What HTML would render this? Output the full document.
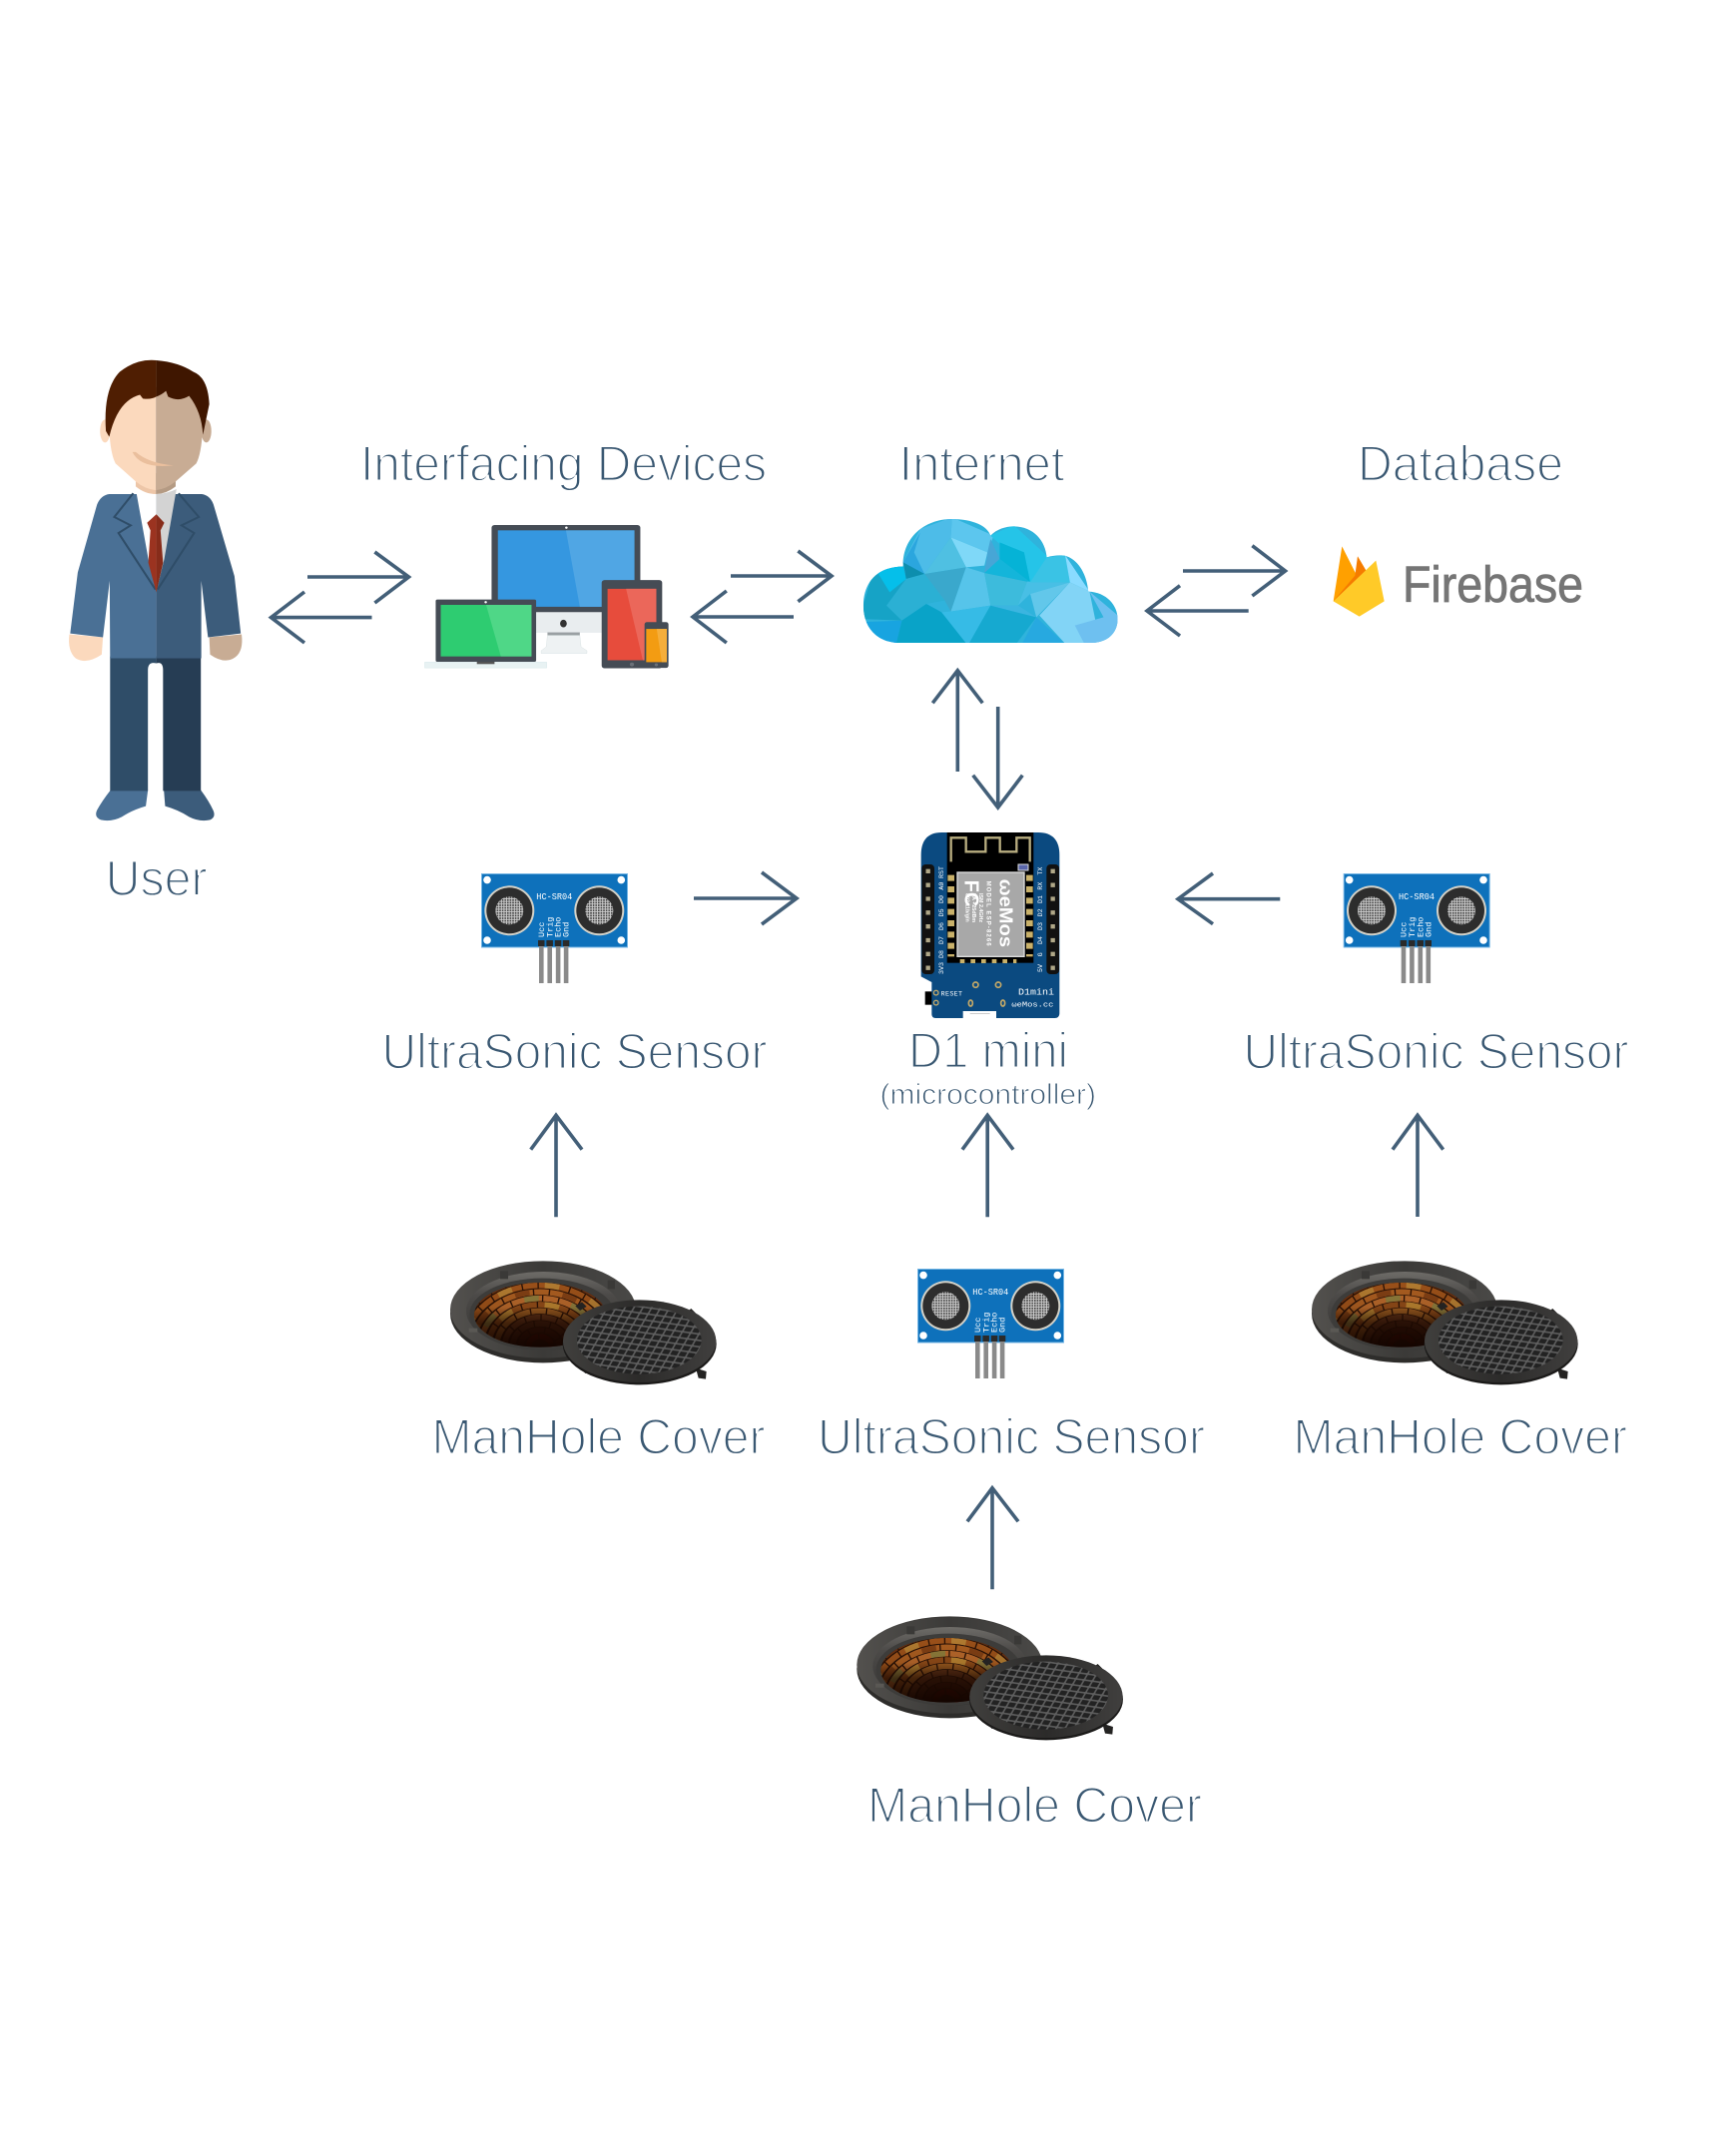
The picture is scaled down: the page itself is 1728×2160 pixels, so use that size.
<!DOCTYPE html>
<html><head><meta charset="utf-8"><style>
html,body{margin:0;padding:0;background:#fff}
svg{display:block}
.t{font-family:"Liberation Sans",sans-serif;font-size:50px;fill:#3a5872;stroke:#fff;stroke-width:1.9px}
.a{fill:none;stroke:#435f78;stroke-width:3.6}
.w{font-family:"Liberation Mono",monospace;fill:#fff}
</style></head><body>
<svg width="1728" height="2160" viewBox="0 0 1728 2160" xmlns="http://www.w3.org/2000/svg">
<defs>
<pattern id="mesh" width="2.6" height="2.6" patternUnits="userSpaceOnUse"><rect width="2.6" height="2.6" fill="#cfcfcf"/><rect width="1.6" height="1.6" fill="#3a3a3a"/></pattern>
<pattern id="grate" width="25" height="19" patternUnits="userSpaceOnUse" patternTransform="rotate(8) skewX(-22)"><rect width="25" height="19" fill="#5f5f5f"/><rect x="2.5" y="2.5" width="20" height="14" rx="2" fill="#222"/></pattern>
<linearGradient id="hd" x1="0" y1="0" x2="0" y2="1"><stop offset="0" stop-color="#000" stop-opacity="0"/><stop offset=".38" stop-color="#100500" stop-opacity=".08"/><stop offset=".62" stop-color="#160600" stop-opacity=".65"/><stop offset="1" stop-color="#120400" stop-opacity=".95"/></linearGradient>
<linearGradient id="rim" x1="0" y1="0" x2="1" y2="0"><stop offset="0" stop-color="#53514e"/><stop offset=".5" stop-color="#3b3a38"/><stop offset="1" stop-color="#4a4947"/></linearGradient>
<linearGradient id="shelf" x1="0" y1="0" x2="0" y2="1"><stop offset="0" stop-color="#6e6c68"/><stop offset=".3" stop-color="#4c4a48"/><stop offset="1" stop-color="#333230"/></linearGradient>
<linearGradient id="cv" x1="0" y1="0" x2="1" y2="0"><stop offset="0" stop-color="#403f3d"/><stop offset=".5" stop-color="#2c2b2a"/><stop offset="1" stop-color="#403f3e"/></linearGradient>
<clipPath id="cl"><path d="M355,672C320,665 302,620 302,560C302,490 325,443 367,443C365,360 400,300 447,300C480,300 505,320 510,350C520,330 535,322 548,322C580,322 600,365 602,415C615,408 628,408 635,412C655,425 668,470 670,518C700,520 718,560 718,600C718,645 700,672 675,672Z"/></clipPath>
<clipPath id="hole"><ellipse cx="612" cy="652" rx="198" ry="97"/></clipPath>

<g id="sensor">
<rect x=".5" y=".5" width="146" height="73.5" fill="#0e71bb" stroke="#74b5e4"/>
<circle cx="6" cy="6.6" r="3.8" fill="#fff"/><circle cx="140.3" cy="6.6" r="3.8" fill="#fff"/><circle cx="6" cy="67" r="3.8" fill="#fff"/><circle cx="140.3" cy="67" r="3.8" fill="#fff"/>
<circle cx="28.3" cy="37.3" r="25" fill="#d4d2c8"/><circle cx="28.3" cy="37.3" r="23" fill="#2d2d2d"/><circle cx="28.3" cy="37.3" r="14" fill="url(#mesh)"/>
<circle cx="118.3" cy="37.3" r="25" fill="#d4d2c8"/><circle cx="118.3" cy="37.3" r="23" fill="#2d2d2d"/><circle cx="118.3" cy="37.3" r="14" fill="url(#mesh)"/>
<text x="73.3" y="26" text-anchor="middle" class="w" font-size="9" textLength="36" lengthAdjust="spacingAndGlyphs">HC-SR04</text>
<text transform="translate(63,64) rotate(-90)" class="w" font-size="8.5">Ucc</text>
<text transform="translate(71.3,64) rotate(-90)" class="w" font-size="8.5">Trig</text>
<text transform="translate(79.6,64) rotate(-90)" class="w" font-size="8.5">Echo</text>
<text transform="translate(87.6,64) rotate(-90)" class="w" font-size="8.5">Gnd</text>
<g fill="#2a2a2a"><rect x="57" y="67" width="6.5" height="6"/><rect x="65.4" y="67" width="6.5" height="6"/><rect x="73.8" y="67" width="6.5" height="6"/><rect x="81.8" y="67" width="6.5" height="6"/></g>
<g fill="#8a8a8a"><rect x="58" y="73" width="4.6" height="37"/><rect x="66.4" y="73" width="4.6" height="37"/><rect x="74.8" y="73" width="4.6" height="37"/><rect x="82.8" y="73" width="4.6" height="37"/></g>
</g>

<g id="mh"><g transform="translate(1200,1100) scale(.33333)">
<ellipse cx="621" cy="648" rx="279" ry="148" fill="#2e2d2b"/>
<ellipse cx="621" cy="636" rx="279" ry="146" fill="url(#rim)"/>
<ellipse cx="622" cy="640" rx="232" ry="118" fill="url(#shelf)"/>
<ellipse cx="618" cy="650" rx="218" ry="108" fill="#3d3c3a"/>
<ellipse cx="612" cy="652" rx="198" ry="97" fill="#2a1206"/>
<g clip-path="url(#hole)" fill="none" stroke-width="17">
<ellipse cx="612" cy="745" rx="226" ry="182" stroke="#9a5019" stroke-dasharray="44 4"/>
<ellipse cx="612" cy="745" rx="226" ry="182" stroke="#b07a30" stroke-dasharray="44 100" stroke-dashoffset="30"/>
<ellipse cx="612" cy="745" rx="202" ry="162" stroke="#a85c20" stroke-dasharray="44 4" stroke-dashoffset="22"/>
<ellipse cx="612" cy="745" rx="202" ry="162" stroke="#7f3f14" stroke-dasharray="44 100" stroke-dashoffset="80"/>
<ellipse cx="612" cy="745" rx="178" ry="143" stroke="#b4662a" stroke-dasharray="44 4"/>
<ellipse cx="612" cy="745" rx="178" ry="143" stroke="#8c7a3a" stroke-dasharray="44 100" stroke-dashoffset="10"/>
<ellipse cx="612" cy="745" rx="154" ry="124" stroke="#8d4a18" stroke-dasharray="44 4" stroke-dashoffset="22"/>
<ellipse cx="612" cy="745" rx="154" ry="124" stroke="#b5802f" stroke-dasharray="44 100" stroke-dashoffset="50"/>
<ellipse cx="612" cy="745" rx="130" ry="105" stroke="#9a5a1f" stroke-dasharray="44 4"/>
<ellipse cx="612" cy="745" rx="106" ry="86" stroke="#643418" stroke-dasharray="44 4" stroke-dashoffset="22"/>
<ellipse cx="612" cy="745" rx="82" ry="67" stroke="#4a2410" stroke-dasharray="44 4"/>
<ellipse cx="612" cy="745" rx="58" ry="48" stroke="#3c170a" stroke-dasharray="44 4" stroke-dashoffset="22"/>
<ellipse cx="612" cy="745" rx="34" ry="28" stroke="#4a0d04" stroke-dasharray="44 4"/>
<ellipse cx="612" cy="745" rx="250" ry="201" stroke="#6a3212" stroke-dasharray="44 4"/>
</g>
<ellipse cx="612" cy="652" rx="198" ry="97" fill="url(#hd)"/>
<rect x="492" y="520" width="24" height="24" fill="#3a3937"/><rect x="815" y="548" width="22" height="26" fill="#3a3937"/><rect x="398" y="692" width="26" height="12" fill="#5a5854"/>
<path d="M718,625l20,-12l14,14l-20,12ZM1050,645l16,-12l14,14l-16,12ZM732,808l18,-8l16,18l-18,10ZM1080,812L1112,822L1110,845L1088,842Z" fill="#242322"/>
<ellipse cx="911" cy="739" rx="231" ry="123" fill="#1b1a19"/>
<ellipse cx="911" cy="731" rx="230" ry="124" fill="url(#cv)"/>
<ellipse cx="910" cy="728" rx="187" ry="102" fill="url(#grate)"/>
</g></g>
</defs>

<rect width="1728" height="2160" fill="#fff"/>

<!-- User -->
<g transform="translate(40,340) scale(.42088,.38270)">
<path d="M168,1180H257L252,1222Q220,1232 195,1250Q170,1264 145,1258Q128,1250 136,1232Q148,1208 168,1180Z" fill="#4a7095"/>
<path d="M383,1180H295L298,1222Q330,1232 355,1250Q380,1264 405,1258Q420,1250 412,1232Q402,1208 383,1180Z" fill="#3c5c7b"/>
<path d="M167,830H277V848Q257,842 257,866V1182H167Z" fill="#2f4d68"/>
<path d="M383,830H277V848Q293,842 293,866V1182H383Z" fill="#263d54"/>
<path d="M70,772L150,780L147,825Q110,852 85,835Q65,815 70,772Z" fill="#fbd9bd"/>
<path d="M480,772L403,780L405,825Q440,852 465,832Q485,815 480,772Z" fill="#c8ac94"/>
<path d="M277,405H165Q145,408 136,432L90,610L72,770L150,780L166,632L167,835H277Z" fill="#4a7095"/>
<path d="M277,405H385Q405,408 413,432L463,620L478,770L400,780L384,632L384,835H277Z" fill="#3c5c7b"/>
<path d="M228,392Q250,405 277,405V660L258,575Z" fill="#fff"/><path d="M325,392Q300,405 277,405V660L296,575Z" fill="#d3d3d3"/>
<path d="M222,403L177,465L216,487L187,507L275,655" fill="none" stroke="#2f4d68" stroke-width="5"/>
<path d="M330,403L378,465L337,487L367,507L280,655" fill="none" stroke="#2f4d68" stroke-width="5"/>
<path d="M277,458L255,480L263,500L258,585L277,662Z" fill="#9b3320"/>
<path d="M277,458L296,480L287,500L293,585L277,662Z" fill="#872c1a"/>
<ellipse cx="155" cy="240" rx="12" ry="30" fill="#fbd9bd"/><ellipse cx="396" cy="240" rx="12" ry="30" fill="#c8ac94"/>
<path d="M228,350V385Q250,405 276,405V350Z" fill="#edc6a8"/><path d="M323,350V385Q300,405 276,405V350Z" fill="#b49a83"/>
<path d="M276,125H220Q170,150 165,240Q168,300 180,325L228,372Q250,392 276,395Z" fill="#fbd9bd"/>
<path d="M276,125H330Q385,150 387,240Q384,300 372,325L323,372Q300,392 276,395Z" fill="#c8ac94"/>
<path d="M220,295Q240,340 318,330Q260,325 228,295Z" fill="#eabf9d"/>
<path d="M277,55Q230,50 190,85Q150,130 157,240L165,255Q185,160 238,145L245,155Q265,158 277,150Z" fill="#4f1e02"/>
<path d="M277,55Q330,60 365,85Q400,100 403,170L388,250Q385,190 355,148Q330,165 305,150L300,135Q290,145 277,150Z" fill="#3f1600"/>
</g>

<!-- Devices -->
<g transform="translate(40,340) scale(.42088,.38270)">
<rect x="1180" y="710" width="160" height="58" fill="#e9edef"/>
<rect x="1208" y="767" width="77" height="8" fill="#9aa0a3"/>
<path d="M1208,775H1285L1288,805L1302,815V822H1193V815L1205,805Z" fill="#eef2f3" stroke="#d5dfe0"/>
<ellipse cx="1246" cy="744" rx="8" ry="10" fill="#333"/>
<rect x="1075" y="486" width="354" height="228" rx="7" fill="#454c55"/>
<rect x="1090" y="500" width="325" height="200" fill="#3597e0"/>
<path d="M1252,500H1415V700H1285Z" fill="#50a6e4"/>
<circle cx="1253" cy="493" r="3" fill="#fff"/>
<rect x="916" y="845" width="290" height="15" fill="#e8f2f3" stroke="#cfe4e6"/>
<rect x="942" y="681" width="239" height="163" rx="4" fill="#454c55"/>
<rect x="954" y="695" width="216" height="135" fill="#2ecc71"/>
<path d="M1062,695H1170V830H1097Z" fill="#4fd787"/>
<circle cx="1061" cy="688" r="3" fill="#fff"/>
<rect x="1040" y="844" width="42" height="6" fill="#555"/>
<rect x="1337" y="630" width="144" height="231" rx="7" fill="#454c55"/>
<rect x="1351" y="653" width="116" height="187" fill="#e74c3c"/>
<path d="M1395,653H1467V840H1435Z" fill="#eb675a"/>
<rect x="1439" y="740" width="57" height="120" rx="6" fill="#454c55"/>
<rect x="1443" y="758" width="49" height="87" fill="#f39c12"/>
<path d="M1468,758H1492V845H1480Z" fill="#f5ae3b"/>
<circle cx="1409" cy="851" r="5" fill="#6a7078"/><circle cx="1467" cy="852" r="4" fill="#6a7078"/>
</g>

<!-- Cloud -->
<g transform="translate(680,420) scale(.61224,.33333)">
<g clip-path="url(#cl)">
<rect x="295" y="295" width="430" height="385" fill="#2fb3dc"/>
<polygon points="447,295 515,350 505,400 445,355" fill="#5cc6ee"/>
<polygon points="447,295 395,330 367,430 402,465 445,355" fill="#4dbce8"/>
<polygon points="395,340 367,430 380,470 402,465 385,400" fill="#2ba6de"/>
<polygon points="445,355 505,400 500,440 470,445" fill="#7fd8f8"/>
<polygon points="445,355 402,465 470,445" fill="#4fc0e2"/>
<polygon points="402,465 470,445 445,578 435,545" fill="#3aa8cc"/>
<polygon points="470,445 500,462 510,560 445,578" fill="#56c4ea"/>
<polygon points="505,400 500,462 525,420 510,360" fill="#47a6d6"/>
<polygon points="510,350 548,318 605,415 575,490 525,375" fill="#25c4e8"/>
<polygon points="525,370 525,420 575,490 565,400" fill="#05b3d6"/>
<polygon points="500,462 570,488 555,560 510,560" fill="#3dbbdc"/>
<polygon points="525,420 575,490 500,462" fill="#14b5da"/>
<polygon points="570,488 640,490 575,525 555,560" fill="#48bfe5"/>
<polygon points="602,415 575,490 640,490 632,408" fill="#3ac3e5"/>
<polygon points="632,408 672,518 640,490" fill="#8adbff"/>
<polygon points="640,490 672,518 690,680 635,680 590,590" fill="#82d4f6"/>
<polygon points="575,525 640,490 585,595" fill="#62c7ea"/>
<polygon points="295,600 320,445 367,440 372,480 340,560 365,605" fill="#16a3c6"/>
<polygon points="320,445 367,440 372,480 345,520" fill="#05bfea"/>
<polygon points="367,430 402,465 372,480" fill="#0d8eae"/>
<polygon points="365,605 295,610 320,680 355,680" fill="#18a4e0"/>
<polygon points="372,480 402,465 435,545 405,555 365,605 340,560" fill="#2bb0d4"/>
<polygon points="405,555 430,580 473,680 355,680 365,605" fill="#09a3c8"/>
<polygon points="430,580 445,578 510,560 473,680" fill="#36bbe6"/>
<polygon points="510,560 585,595 550,680 473,680" fill="#16a9d0"/>
<polygon points="585,595 635,680 560,680" fill="#27a9e0"/>
<polygon points="510,560 555,560 585,595" fill="#3bb5e0"/>
<polygon points="672,518 725,600 715,660 690,680 665,680 648,620 695,595" fill="#6ec0f0"/>
</g>
</g>

<!-- Firebase -->
<g transform="translate(1300,520) scale(.33333)">
<polygon points="107,247 133,82 175,165 180,112 207,158 235,125 200,200" fill="#ffa000"/>
<polygon points="107,247 172,170 180,112 207,158" fill="#f57c00"/>
<polygon points="107,247 235,125 260,247 185,293" fill="#ffca28"/>
</g>
<text x="1405" y="603" font-family="Liberation Sans,sans-serif" font-size="51" fill="#757575" stroke="#757575" stroke-width=".8" textLength="181" lengthAdjust="spacingAndGlyphs">Firebase</text>

<!-- D1 mini -->
<g transform="translate(900,830) scale(.33333)">
<rect x="80" y="490" width="22" height="40" fill="#000"/>
<path d="M68,80Q68,12 130,12H420Q484,12 484,80V555Q484,570 470,570H112Q100,570 100,558V462L68,445Z" fill="#0b4a80"/>
<rect x="146" y="12" width="260" height="392" fill="#000"/>
<polyline points="158,100 158,28 203,28 203,70 262,70 262,28 305,28 305,70 355,70 355,28 395,28 395,100" fill="none" stroke="#b8ad80" stroke-width="7"/>
<rect x="177" y="132" width="201" height="253" fill="#a8a8a8" stroke="#ddd" stroke-width="4"/>
<line x1="158" y1="140" x2="158" y2="385" stroke="#c9b16a" stroke-width="20" stroke-dasharray="18 16"/>
<line x1="394" y1="140" x2="394" y2="385" stroke="#c9b16a" stroke-width="20" stroke-dasharray="18 16"/>
<line x1="185" y1="399" x2="355" y2="399" stroke="#c9b16a" stroke-width="12" stroke-dasharray="14 18"/>
<rect x="360" y="108" width="30" height="18" fill="#5a66aa" stroke="#ddd" stroke-width="3"/>
<rect x="70" y="108" width="38" height="330" rx="12" fill="#111"/>
<rect x="445" y="108" width="38" height="330" rx="12" fill="#111"/>
<line x1="89" y1="122" x2="89" y2="430" stroke="#b0a888" stroke-width="13" stroke-dasharray="13 28.5"/>
<line x1="464" y1="122" x2="464" y2="430" stroke="#b0a888" stroke-width="13" stroke-dasharray="13 28.5"/>
<g class="w" font-size="20">
<text transform="translate(135,150) rotate(-90)">RST</text><text transform="translate(135,185) rotate(-90)">A0</text><text transform="translate(135,225) rotate(-90)">D0</text><text transform="translate(135,265) rotate(-90)">D5</text><text transform="translate(135,306) rotate(-90)">D6</text><text transform="translate(135,348) rotate(-90)">D7</text><text transform="translate(135,390) rotate(-90)">D8</text><text transform="translate(135,438) rotate(-90)">3V3</text>
<text transform="translate(432,140) rotate(-90)">TX</text><text transform="translate(432,185) rotate(-90)">RX</text><text transform="translate(432,225) rotate(-90)">D1</text><text transform="translate(432,265) rotate(-90)">D2</text><text transform="translate(432,306) rotate(-90)">D3</text><text transform="translate(432,348) rotate(-90)">D4</text><text transform="translate(432,385) rotate(-90)">G</text><text transform="translate(432,432) rotate(-90)">5V</text>
</g>
<text transform="translate(200,155) rotate(90)" font-family="Liberation Sans,sans-serif" font-weight="bold" font-size="60" fill="#fff">FC</text>
<text transform="translate(305,152) rotate(90)" font-family="Liberation Sans,sans-serif" font-weight="bold" font-size="56" fill="#fff" textLength="205" lengthAdjust="spacingAndGlyphs">ωeMos</text>
<g font-family="Liberation Sans,sans-serif" font-weight="bold" fill="#fff">
<text transform="translate(265,158) rotate(90)" font-size="18" textLength="195" lengthAdjust="spacing">MODEL ESP-8266</text>
<text transform="translate(243,195) rotate(90)" font-size="16">ISM 2.4GHz</text>
<text transform="translate(222,195) rotate(90)" font-size="16">PA +25dBm</text>
<text transform="translate(202,195) rotate(90)" font-size="16">802.11b/g/n</text>
</g>
<circle cx="113" cy="494" r="7" fill="none" stroke="#c2a868" stroke-width="4"/><circle cx="113" cy="524" r="7" fill="none" stroke="#c2a868" stroke-width="4"/>
<ellipse cx="232" cy="470" rx="8" ry="8" fill="none" stroke="#c2a868" stroke-width="5"/><ellipse cx="300" cy="470" rx="8" ry="8" fill="none" stroke="#c2a868" stroke-width="5"/><ellipse cx="217" cy="525" rx="6" ry="9" fill="none" stroke="#c2a868" stroke-width="5"/><ellipse cx="314" cy="525" rx="6" ry="9" fill="none" stroke="#c2a868" stroke-width="5"/>
<text x="128" y="502" class="w" font-size="20" textLength="64">RESET</text>
<text x="360" y="500" class="w" font-size="28" textLength="108" lengthAdjust="spacingAndGlyphs">D1mini</text>
<text x="340" y="536" class="w" font-size="22" textLength="126" lengthAdjust="spacingAndGlyphs">ωeMos.cc</text>
<rect x="194" y="549" width="100" height="22" fill="#fff"/><rect x="215" y="555" width="60" height="3" fill="#ccc"/>
</g>

<!-- Sensors -->
<use href="#sensor" transform="translate(482,875)"/>
<use href="#sensor" transform="translate(1345.7,875)"/>
<use href="#sensor" transform="translate(919,1271)"/>

<!-- Manholes -->
<use href="#mh" transform="translate(-863,0)"/>
<use href="#mh"/>
<use href="#mh" transform="translate(-455.7,356)"/>

<!-- Arrows -->
<g class="a">
<path d="M308,578H409.5M375.4,553L409.5,578L375.4,604"/>
<path d="M372.5,618.6H271.5M305,593L271.5,618.6L305,644"/>
<path d="M732,577H833M799.4,552L833,577L799.4,602.7"/>
<path d="M795,618H694M727.8,592L694,618L727.8,644"/>
<path d="M1185,572H1287.5M1254.4,546.7L1287.5,572L1254.4,597"/>
<path d="M1250.7,612H1149M1182,586.7L1149,612L1182,637"/>
<path d="M959.3,773V671.7M934.3,704.3L959.3,671.7L984.3,704.3"/>
<path d="M999.7,708V809M974.7,776.7L999.7,809L1024.3,776.7"/>
<path d="M695,900H798M763,874L798,900L763,926"/>
<path d="M1282.3,900.7H1180M1215,875L1180,900.7L1215,925.7"/>
<path d="M557,1219.3V1117.3M531.7,1151.7L557,1117.3L583,1151.7"/>
<path d="M989.2,1219.3V1117.3M964,1151.7L989.2,1117.3L1015,1151.7"/>
<path d="M1420,1219V1117.3M1395,1151.7L1420,1117.3L1445.7,1151.7"/>
<path d="M994,1592.3V1490.7M969,1524.3L994,1490.7L1020,1524.3"/>
</g>

<!-- Labels -->
<text class="t" x="361" y="481.7" textLength="407" lengthAdjust="spacingAndGlyphs">Interfacing Devices</text>
<text class="t" x="900.5" y="481.7" textLength="166" lengthAdjust="spacingAndGlyphs">Internet</text>
<text class="t" x="1360" y="481.7" textLength="206" lengthAdjust="spacingAndGlyphs">Database</text>
<text class="t" x="105.6" y="897" textLength="102" lengthAdjust="spacingAndGlyphs">User</text>
<text class="t" x="382.5" y="1070.7" textLength="386" lengthAdjust="spacingAndGlyphs">UltraSonic Sensor</text>
<text class="t" x="910" y="1069.5" textLength="160" lengthAdjust="spacingAndGlyphs">D1 mini</text>
<text class="t" x="881.5" y="1106" style="font-size:29px;stroke-width:1px" textLength="216.5" lengthAdjust="spacingAndGlyphs">(microcontroller)</text>
<text class="t" x="1245.5" y="1070.7" textLength="386" lengthAdjust="spacingAndGlyphs">UltraSonic Sensor</text>
<text class="t" x="432.5" y="1456.7" textLength="334" lengthAdjust="spacingAndGlyphs">ManHole Cover</text>
<text class="t" x="819" y="1456.7" textLength="388" lengthAdjust="spacingAndGlyphs">UltraSonic Sensor</text>
<text class="t" x="1295.5" y="1456.7" textLength="334.5" lengthAdjust="spacingAndGlyphs">ManHole Cover</text>
<text class="t" x="869" y="1825.7" textLength="335" lengthAdjust="spacingAndGlyphs">ManHole Cover</text>
</svg>
</body></html>
